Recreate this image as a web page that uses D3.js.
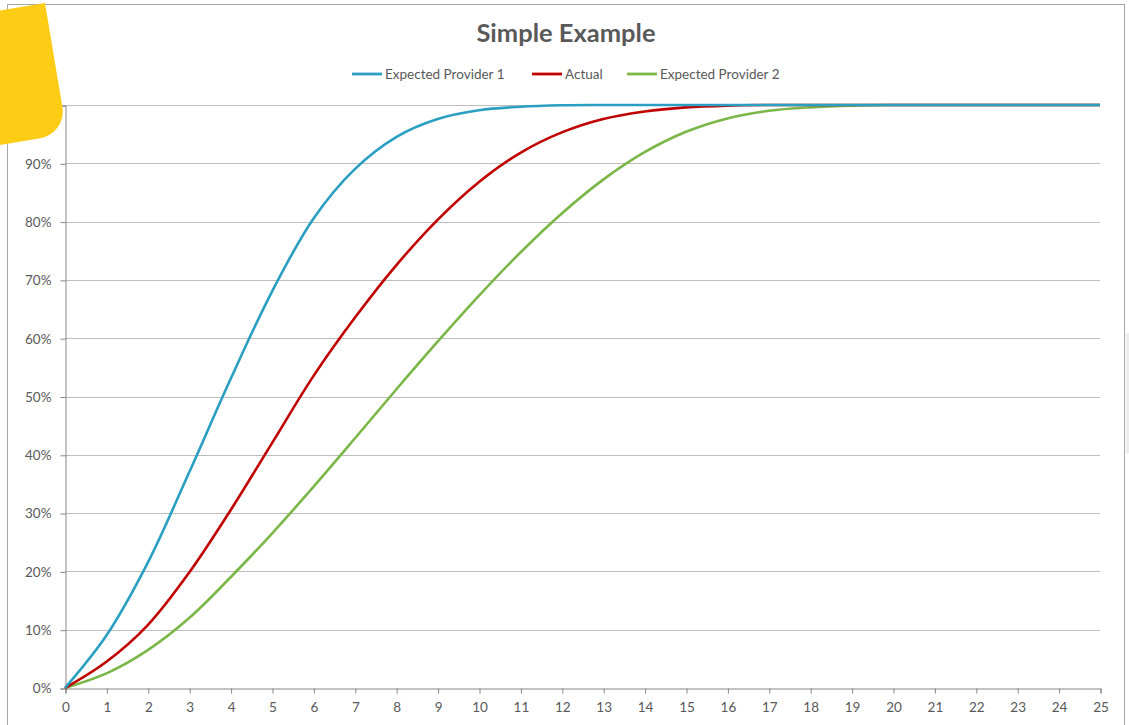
<!DOCTYPE html>
<html>
<head>
<meta charset="utf-8">
<script src="https://cdn.jsdelivr.net/npm/d3@7"></script>
<style>
  html, body { margin: 0; padding: 0; background: #fff; }
  svg { display: block; }
  text { font-family: Lato, "Open Sans", sans-serif; fill: #595959; }
</style>
</head>
<body>
<svg id="chart" width="1129" height="725"></svg>
<script>
// Day index along the x axis
const days = [0,1,2,3,4,5,6,7,8,9,10,11,12,13,14,15,16,17,18,19,20,21,22,23,24,25];

// Cumulative share completed by day
const expectedProvider1 = [0, 0.09, 0.215, 0.37, 0.53, 0.68, 0.805, 0.89, 0.945, 0.976, 0.991, 0.997, 0.9995, 1, 1, 1, 1, 1, 1, 1, 1, 1, 1, 1, 1, 1];
const actual            = [0, 0.045, 0.108, 0.198, 0.305, 0.42, 0.535, 0.635, 0.725, 0.803, 0.868, 0.918, 0.953, 0.976, 0.989, 0.996, 0.999, 1, 1, 1, 1, 1, 1, 1, 1, 1];
const expectedProvider2 = [0, 0.025, 0.065, 0.12, 0.19, 0.265, 0.345, 0.428, 0.512, 0.594, 0.673, 0.747, 0.814, 0.872, 0.919, 0.954, 0.977, 0.99, 0.996, 0.999, 1, 1, 1, 1, 1, 1];

const seriesNames = ["Expected Provider 1", "Actual", "Expected Provider 2"];
const seriesColors = ["#2a9fc1", "#c00000", "#7ab648"];
const yTicks = [0, 0.1, 0.2, 0.3, 0.4, 0.5, 0.6, 0.7, 0.8, 0.9, 1.0];

const series = [expectedProvider1, actual, expectedProvider2].map((vals, i) => ({
  name: seriesNames[i],
  color: seriesColors[i],
  points: days.map((d, j) => ({ x: d, y: vals[j] }))
}));

const svg = d3.select("#chart");
const plot = { left: 65, right: 1100, top: 105, bottom: 688 };

const x = d3.scaleLinear().domain([0, 25]).range([plot.left, plot.right]);
const y = d3.scaleLinear().domain([0, 1]).range([plot.bottom, plot.top]);

// Chart frame
svg.append("rect")
  .attr("x", 7.5).attr("y", 4.5)
  .attr("width", 1117).attr("height", 740)
  .attr("fill", "#fff").attr("stroke", "#a6a6a6").attr("stroke-width", 1);

// Title
svg.append("text")
  .attr("x", 566).attr("y", 42)
  .attr("text-anchor", "middle")
  .style("font-size", "25.5px").style("font-weight", "bold")
  .text("Simple Example");

// Horizontal gridlines
svg.append("g")
  .selectAll("line")
  .data(yTicks.filter(t => t > 0))
  .join("line")
  .attr("x1", plot.left).attr("x2", plot.right)
  .attr("y1", d => Math.round(y(d)) + 0.5).attr("y2", d => Math.round(y(d)) + 0.5)
  .attr("stroke", "#bdbdbd").attr("stroke-width", 1);

// Y axis
const yAxis = svg.append("g")
  .attr("transform", `translate(${plot.left + 0.5},0.5)`)
  .call(d3.axisLeft(y).tickValues(yTicks).tickFormat(d3.format(".0%")).tickSize(5).tickPadding(9));
yAxis.select(".domain").attr("stroke", "#868686");
yAxis.selectAll(".tick line").attr("stroke", "#868686");
yAxis.selectAll("text").style("font-size", "13.5px").style("fill", "#595959").attr("font-family", null);

// X axis
const xAxis = svg.append("g")
  .attr("transform", `translate(0.5,${plot.bottom + 0.5})`)
  .call(d3.axisBottom(x).tickValues(days).tickFormat(d3.format("d")).tickSize(5).tickPadding(9));
xAxis.select(".domain").attr("stroke", "#868686");
xAxis.selectAll(".tick line").attr("stroke", "#868686");
xAxis.selectAll("text").style("font-size", "13.5px").style("fill", "#595959").attr("font-family", null);

// Series lines, smoothed through each daily point
const line = d3.line()
  .x(d => x(d.x))
  .y(d => y(d.y))
  .curve(d3.curveCatmullRom.alpha(0.5));

svg.append("g")
  .selectAll("path")
  .data(series.slice().reverse())
  .join("path")
  .attr("d", d => line(d.points))
  .attr("fill", "none")
  .attr("stroke", d => d.color)
  .attr("stroke-width", 2.6)
  .attr("stroke-linejoin", "round");

// Legend
const legendPos = [352, 532, 627];
const legend = svg.append("g");
series.forEach((s, i) => {
  const g = legend.append("g").attr("transform", `translate(${legendPos[i]},74)`);
  g.append("line")
    .attr("x1", 0).attr("x2", 30).attr("y1", 0).attr("y2", 0)
    .attr("stroke", s.color).attr("stroke-width", 2.8);
  g.append("text")
    .attr("x", 33).attr("y", 4.5)
    .style("font-size", "13.5px")
    .text(s.name);
});

// Sticky-note tab in the upper-left corner
const tabLen = 132.6, tabR = 27;
svg.append("path")
  .attr("transform", "translate(45,3) rotate(-9.5)")
  .attr("d", `M -300,0 L 0,0 L 0,${tabLen - tabR} A ${tabR},${tabR} 0 0 1 ${-tabR},${tabLen} L -300,${tabLen} Z`)
  .attr("fill", "#fecc15");

// Light edge at the far right
svg.append("rect")
  .attr("x", 1126).attr("y", 333).attr("width", 3).attr("height", 120)
  .attr("fill", "#ececec");
</script>
</body>
</html>
